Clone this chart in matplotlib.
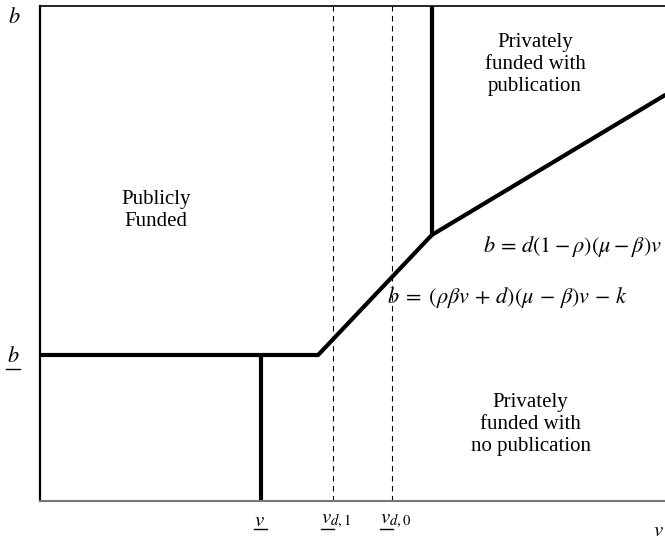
import matplotlib.pyplot as plt
from matplotlib.lines import Line2D

plt.rcParams['font.family'] = ['Liberation Serif', 'DejaVu Serif']
plt.rcParams['mathtext.fontset'] = 'stix'

# break points of the boundaries (abstract units: v on x, b on y)
v_low = 3.54          # v underbar
v_d1 = 4.69           # v underbar d,1
v_d0 = 5.63           # v underbar d,0
b_low = 2.36          # b underbar
kink_v = [4.45, 6.27]
kink_b = [2.36, 4.30]
v_max = 10.0
b_max = 8.0
b_end = 6.56

tick_pos = [v_low, v_d1, v_d0]
tick_labels = [r'$v$', r'$v_{d,1}$', r'$v_{d,0}$']

W, H = 665, 541
fig = plt.figure(figsize=(W / 100, H / 100), dpi=100)
ax = fig.add_axes([40 / W, 40 / H, 625 / W, 495 / H])
ax.set_xlim(0, v_max)
ax.set_ylim(0, b_max)

lw = 3
# public / private boundary
ax.plot([0, kink_v[0]], [b_low, b_low], color='black', lw=lw, solid_capstyle='butt')
ax.plot([v_low, v_low], [0, b_low], color='black', lw=lw, solid_capstyle='butt')
ax.plot(kink_v, kink_b, color='black', lw=lw, solid_capstyle='round')
ax.plot([kink_v[1], kink_v[1]], [kink_b[1], b_max], color='black', lw=lw, solid_capstyle='butt')
ax.plot([kink_v[1], v_max], [kink_b[1], b_end], color='black', lw=lw, solid_capstyle='round')

# thresholds
for x in [v_d1, v_d0]:
    ax.plot([x, x], [0, b_max], color='black', lw=0.8, ls=(0, (5, 4)))

fs = 15
ls = 1.2
ax.text(1.85, 4.70, 'Publicly\nFunded', ha='center', va='center', fontsize=fs, linespacing=ls)
ax.text(7.92, 7.05, 'Privately\nfunded with\npublication', ha='center', va='center', fontsize=fs, linespacing=ls)
ax.text(7.85, 1.24, 'Privately\nfunded with\nno publication', ha='center', va='center', fontsize=fs, linespacing=ls)

ax.text(7.09, 4.11, r'$b\,=\,d(1-\rho)(\mu-\beta)v$', ha='left', va='center', fontsize=16)
ax.text(5.55, 3.29, r'$b\;=\;(\rho\beta v\,+\,d)(\mu\,-\,\beta)v\,-\,k$', ha='left', va='center', fontsize=16)

ax.set_xticks([])
ax.set_yticks([])


def to_px(x, y):
    # data point -> pixel position measured from the top-left corner
    px, py = ax.transData.transform((x, y))
    return px, H - py


def underline(x0, x1, y_top):
    fig.add_artist(Line2D([x0 / W, x1 / W], [1 - y_top / H] * 2, color='black', lw=1))


# underlined v labels under the axis
for x, label in zip(tick_pos, tick_labels):
    px, _ = to_px(x, 0)
    left = px - 12 if '_' in label else px - 7
    fig.text(left / W, 1 - 521 / H, label, ha='left', va='center', fontsize=15)
    underline(left, left + 13, 529)

# b underbar on the vertical axis
_, py = to_px(0, b_low)
fig.text(13 / W, 1 - (py + 2) / H, r'$b$', ha='center', va='center', fontsize=16)
underline(6, 20, py + 14)

fig.text(14 / W, 1 - 18 / H, r'$b$', fontsize=16, ha='center', va='center')
fig.text(653 / W, 1 - 531 / H, r'$v$', fontsize=15, ha='left', va='center')

ax.spines['right'].set_visible(False)
ax.spines['left'].set_linewidth(1.6)
ax.spines['top'].set_linewidth(1.2)
ax.spines['bottom'].set_color('#777777')
ax.spines['bottom'].set_linewidth(1.5)

fig.savefig('out.png', dpi=100)
